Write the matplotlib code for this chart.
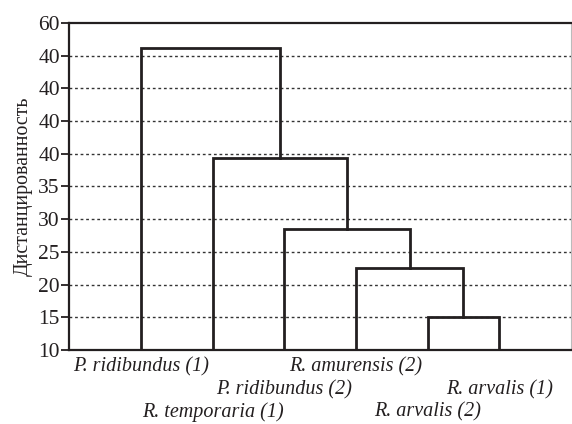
import matplotlib
matplotlib.use("Agg")
import matplotlib.pyplot as plt

# leaves, left to right
leaf_names = ["P. ridibundus (1)", "R. temporaria (1)", "P. ridibundus (2)",
              "R. amurensis (2)", "R. arvalis (2)", "R. arvalis (1)"]
label_row = [0, 2, 1, 0, 2, 1]

# merges from the bottom up: leaf joined to the cluster on its right, height
merge_leaf = [4, 3, 2, 1, 0]
merge_height = [15.0, 22.6, 28.5, 39.4, 56.1]

y_ticks = [10, 15, 20, 25, 30, 35, 40, 45, 50, 55, 60]
y_tick_labels = ["10", "15", "20", "25", "30", "35", "40", "40", "40", "40", "60"]

plt.rcParams["font.family"] = ["Liberation Serif", "DejaVu Serif"]

fig = plt.figure(figsize=(5.72, 4.24), dpi=100)
ax = fig.add_axes([0.1215, 0.1745, 0.8765, 0.7713])

leaf_x = [i + 1 for i in range(len(leaf_names))]

# grid
for t in y_ticks[1:-1]:
    ax.axhline(t, color="#333333", lw=1.0, ls=(0, (2, 2)), zorder=1)

# the last leaf starts the cluster
cl_x = leaf_x[-1]
cl_y = 10
for leaf, h in zip(merge_leaf, merge_height):
    lx = leaf_x[leaf]
    ax.plot([lx, lx, cl_x, cl_x], [10, h, h, cl_y], color="#231f20", lw=2.0,
            solid_joinstyle="miter", zorder=3)
    cl_x = (lx + cl_x) / 2
    cl_y = h

ax.set_xlim(0, 7)
ax.set_ylim(10, 60)
ax.set_yticks(y_ticks)
ax.set_yticklabels(y_tick_labels, fontsize=15.5)
ax.set_xticks([])
ax.tick_params(axis="y", direction="out", length=6, width=1.3, pad=1, colors="#231f20")
for tl in ax.get_yticklabels():
    tl.set_color("#231f20")

for side in ["left", "bottom", "top"]:
    ax.spines[side].set_linewidth(1.6)
    ax.spines[side].set_color("#231f20")
ax.spines["right"].set_linewidth(0.8)
ax.spines["right"].set_color("#bbbbbb")

ax.set_ylabel("Дистанцированность", fontsize=14.3, color="#231f20", labelpad=4)

row_y = [-0.05, -0.122, -0.19]
for x, name, r in zip(leaf_x, leaf_names, label_row):
    ax.text(x, row_y[r], name, transform=ax.get_xaxis_transform(),
            ha="center", va="center", fontsize=14.5, style="italic", color="#231f20")

fig.savefig("out.png", dpi=100)
